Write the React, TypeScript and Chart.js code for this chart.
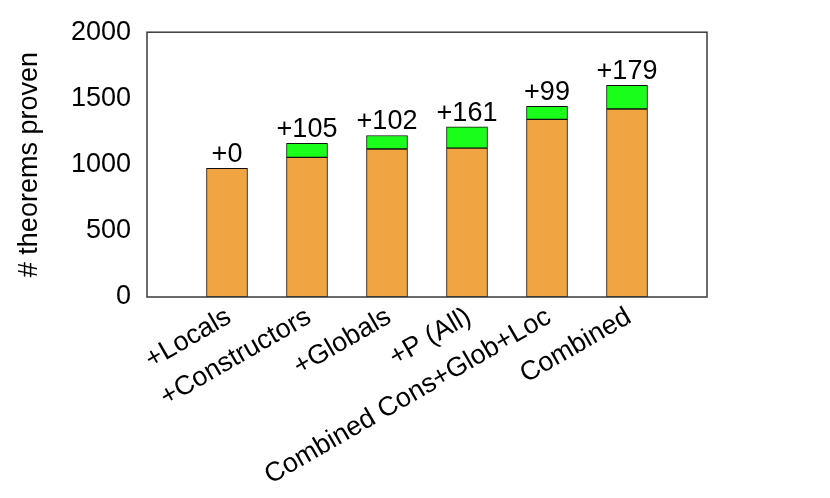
import React, { useEffect, useRef } from "react";
import { Chart, registerables } from "chart.js";

Chart.register(...registerables);

const categories = [
  "+Locals",
  "+Constructors",
  "+Globals",
  "+P (All)",
  "Combined Cons+Glob+Loc",
  "Combined",
];
const baseValues = [971, 1055, 1118, 1124, 1342, 1420];
const gainValues = [0, 105, 102, 161, 99, 179];
const yTicks = [0, 500, 1000, 1500, 2000];

const FONT = "'Liberation Sans', Arial, Helvetica, sans-serif";
const FS = 27;

export default function App() {
  const ref = useRef<HTMLCanvasElement | null>(null);

  useEffect(() => {
    const canvas = ref.current;
    if (!canvas) return;
    const labels = ["", ...categories, ""];
    const pad = (arr: number[]) => [null, ...arr, null];

    const framePlugin = {
      id: "frame",
      afterDraw(chart: any) {
        const { ctx, chartArea } = chart;
        ctx.save();
        ctx.strokeStyle = "#3a3a3a";
        ctx.lineWidth = 1.5;
        ctx.strokeRect(
          chartArea.left,
          chartArea.top,
          chartArea.right - chartArea.left,
          chartArea.bottom - chartArea.top
        );
        const meta = chart.getDatasetMeta(1);
        ctx.fillStyle = "#000";
        ctx.font = `${FS}px ${FONT}`;
        ctx.textAlign = "center";
        ctx.textBaseline = "alphabetic";
        meta.data.forEach((el: any, i: number) => {
          if (i === 0 || i === labels.length - 1) return;
          const g = gainValues[i - 1];
          ctx.fillText(`+${g}`, el.x, el.y - 6);
        });
        ctx.restore();
      },
    };

    const chart = new Chart(canvas, {
      type: "bar",
      data: {
        labels,
        datasets: [
          {
            label: "base",
            data: pad(baseValues) as any,
            backgroundColor: "#f0a542",
            borderColor: "#111",
            borderWidth: 1,
            borderSkipped: false,
            barThickness: 41,
          },
          {
            label: "gain",
            data: pad(gainValues) as any,
            backgroundColor: "#1aff1a",
            borderColor: "#111",
            borderWidth: 1,
            borderSkipped: false,
            barThickness: 41,
          },
        ],
      },
      options: {
        responsive: false,
        animation: false,
        devicePixelRatio: 1,
        layout: { padding: { left: 0, top: 32, right: 123, bottom: 0 } },
        plugins: {
          legend: { display: false },
          tooltip: { enabled: false },
        },
        scales: {
          x: {
            stacked: true,
            offset: false,
            grid: { display: false, drawTicks: false },
            border: { display: false },
            ticks: {
              autoSkip: false,
              maxRotation: 30,
              minRotation: 30,
              padding: 4,
              labelOffset: 2,
              color: "#000",
              font: { family: FONT, size: FS },
            },
            afterFit: (s: any) => {
              s.height = 498 - 297;
            },
          },
          y: {
            stacked: true,
            min: 0,
            max: 2000,
            afterBuildTicks: (s: any) => {
              s.ticks = yTicks.map((v) => ({ value: v }));
            },
            grid: { display: false, drawTicks: false },
            border: { display: false },
            ticks: {
              padding: 16,
              color: "#000",
              font: { family: FONT, size: FS },
              callback: (v: any) => String(v),
            },
            title: {
              display: true,
              text: "# theorems proven",
              color: "#000",
              font: { family: FONT, size: FS },
              padding: { top: 13, bottom: 0 },
            },
            afterFit: (s: any) => {
              s.width = 147;
            },
          },
        },
      },
      plugins: [framePlugin],
    });
    return () => chart.destroy();
  }, []);

  return (
    <div style={{ position: "fixed", left: 0, top: 0, width: 830, height: 498, background: "#fff" }}>
      <canvas ref={ref} width={830} height={498} style={{ width: 830, height: 498 }} />
    </div>
  );
}
